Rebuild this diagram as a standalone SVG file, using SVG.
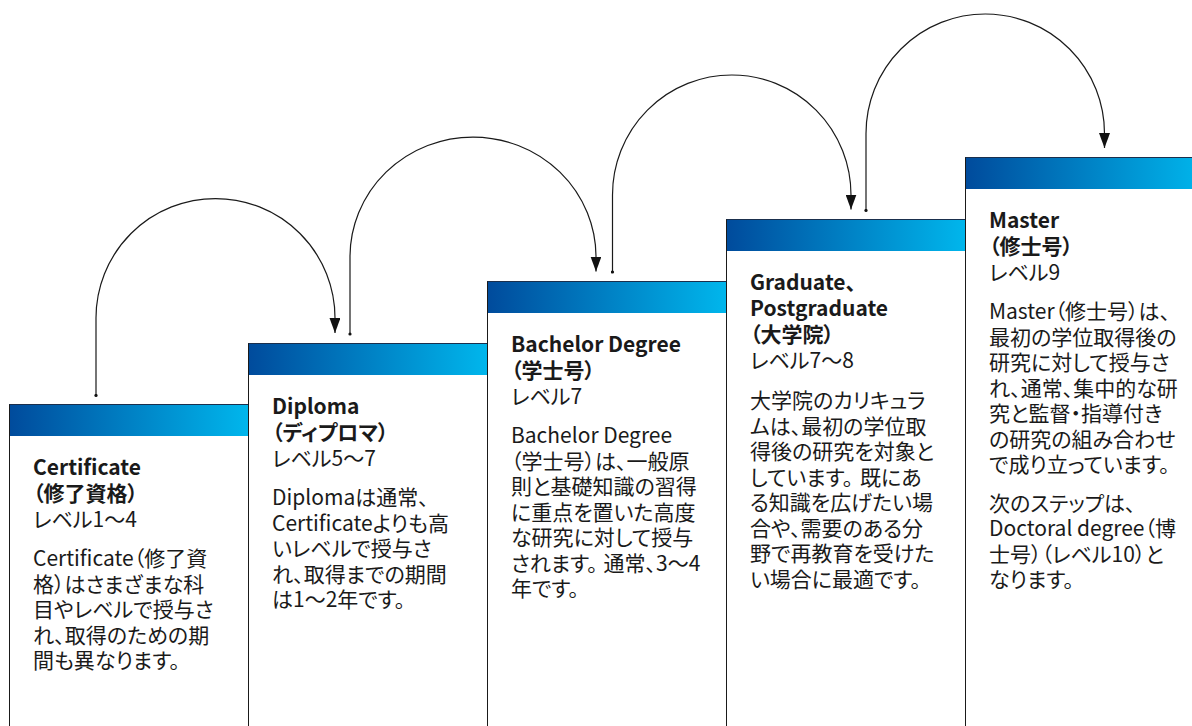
<svg xmlns="http://www.w3.org/2000/svg" width="1192" height="726" viewBox="0 0 1192 726">
<style>
.box{fill:#fff;stroke:#1a1a1a;stroke-width:1}
.hdr{fill:url(#grad)}
text{font-family:"Noto Sans CJK JP","Noto Sans",sans-serif;font-size:21px;fill:#1a1a1a;font-feature-settings:"palt" 1}
.t{font-weight:700}
.l,.b{font-weight:400}
.conn{fill:none;stroke:#1a1a1a;stroke-width:1.2;marker-start:url(#dot);marker-end:url(#arr)}
</style>
<defs>
<linearGradient id="grad" x1="0" y1="0" x2="1" y2="0">
<stop offset="0" stop-color="#004b9c"/>
<stop offset="1" stop-color="#00b6ec"/>
</linearGradient>
<marker id="arr" viewBox="0 0 15 11" refX="15" refY="5.5" markerWidth="15" markerHeight="11" markerUnits="userSpaceOnUse" orient="auto">
<path d="M0,0 L15,5.5 L0,11 Z" fill="#111"/>
</marker>
<marker id="dot" viewBox="0 0 4 4" refX="2" refY="2" markerWidth="4" markerHeight="4" markerUnits="userSpaceOnUse">
<circle cx="2" cy="2" r="1.6" fill="#111"/>
</marker>
</defs>
<rect width="1192" height="726" fill="#fff"/>

<g id="node-certificate">
<rect class="box" x="9.5" y="404.5" width="239" height="330"/>
<rect class="hdr" x="10" y="405" width="238" height="31"/>
<line x1="9.5" y1="404.5" x2="248.5" y2="404.5" stroke="#1a2f4d" stroke-width="1"/>
<text class="t"><tspan x="33" y="475">Certificate</tspan><tspan x="33" y="501">（修了資格）</tspan></text>
<text class="l"><tspan x="33" y="527">レベル1〜4</tspan></text>
<text class="b"><tspan x="33" y="566">Certificate（修了資</tspan><tspan x="33" y="591.5">格）はさまざまな科</tspan><tspan x="33" y="617">目やレベルで授与さ</tspan><tspan x="33" y="642.5">れ、取得のための期</tspan><tspan x="33" y="668">間も異なります。</tspan></text>
</g>

<g id="node-diploma">
<rect class="box" x="248.5" y="343.5" width="239" height="400"/>
<rect class="hdr" x="249" y="344" width="238" height="31"/>
<line x1="248.5" y1="343.5" x2="487.5" y2="343.5" stroke="#1a2f4d" stroke-width="1"/>
<text class="t"><tspan x="272" y="414">Diploma</tspan><tspan x="272" y="440">（ディプロマ）</tspan></text>
<text class="l"><tspan x="272" y="466">レベル5〜7</tspan></text>
<text class="b"><tspan x="272" y="505">Diplomaは通常、</tspan><tspan x="272" y="530.5">Certificateよりも高</tspan><tspan x="272" y="556">いレベルで授与さ</tspan><tspan x="272" y="581.5">れ、取得までの期間</tspan><tspan x="272" y="607">は1〜2年です。</tspan></text>
</g>

<g id="node-bachelor">
<rect class="box" x="487.5" y="281.5" width="239" height="460"/>
<rect class="hdr" x="488" y="282" width="238" height="31"/>
<line x1="487.5" y1="281.5" x2="726.5" y2="281.5" stroke="#1a2f4d" stroke-width="1"/>
<text class="t"><tspan x="511" y="352">Bachelor Degree</tspan><tspan x="511" y="378">（学士号）</tspan></text>
<text class="l"><tspan x="511" y="404">レベル7</tspan></text>
<text class="b"><tspan x="511" y="443">Bachelor Degree</tspan><tspan x="511" y="468.5">（学士号）は、一般原</tspan><tspan x="511" y="494">則と基礎知識の習得</tspan><tspan x="511" y="519.5">に重点を置いた高度</tspan><tspan x="511" y="545">な研究に対して授与</tspan><tspan x="511" y="570.5">されます。</tspan><tspan dx="6">通常、3〜4</tspan><tspan x="511" y="596">年です。</tspan></text>
</g>

<g id="node-graduate">
<rect class="box" x="726.5" y="219.5" width="239" height="520"/>
<rect class="hdr" x="727" y="220" width="238" height="31"/>
<line x1="726.5" y1="219.5" x2="965.5" y2="219.5" stroke="#1a2f4d" stroke-width="1"/>
<text class="t"><tspan x="750" y="290">Graduate、</tspan><tspan x="750" y="316">Postgraduate</tspan><tspan x="750" y="342">（大学院）</tspan></text>
<text class="l"><tspan x="750" y="368">レベル7〜8</tspan></text>
<text class="b"><tspan x="750" y="408">大学院のカリキュラ</tspan><tspan x="750" y="433.5">ムは、最初の学位取</tspan><tspan x="750" y="459">得後の研究を対象と</tspan><tspan x="750" y="484.5">しています。</tspan><tspan dx="7">既にあ</tspan><tspan x="750" y="510">る知識を広げたい場</tspan><tspan x="750" y="535.5">合や、需要のある分</tspan><tspan x="750" y="561">野で再教育を受けた</tspan><tspan x="750" y="586.5">い場合に最適です。</tspan></text>
</g>

<g id="node-master">
<rect class="box" x="965.5" y="157.5" width="239" height="580"/>
<rect class="hdr" x="966" y="158" width="238" height="31"/>
<line x1="965.5" y1="157.5" x2="1204.5" y2="157.5" stroke="#1a2f4d" stroke-width="1"/>
<text class="t"><tspan x="989" y="228">Master</tspan><tspan x="989" y="254">（修士号）</tspan></text>
<text class="l"><tspan x="989" y="280">レベル9</tspan></text>
<text class="b"><tspan x="989" y="319">Master（修士号）は、</tspan><tspan x="989" y="344.5">最初の学位取得後の</tspan><tspan x="989" y="370">研究に対して授与さ</tspan><tspan x="989" y="395.5">れ、通常、集中的な研</tspan><tspan x="989" y="421">究と監督・指導付き</tspan><tspan x="989" y="446.5">の研究の組み合わせ</tspan><tspan x="989" y="472">で成り立っています。</tspan><tspan x="989" y="510.5">次のステップは、</tspan><tspan x="989" y="536">Doctoral degree（博</tspan><tspan x="989" y="561.5">士号）（レベル10）と</tspan><tspan x="989" y="587">なります。</tspan></text>
</g>

<g id="connectors">
<path class="conn" d="M96,395.5 V318 A119.5,119.5 0 0 1 335,318 V333"/>
<path class="conn" d="M350,334 V257 A123,120 0 0 1 596,257 V271.5"/>
<path class="conn" d="M612.5,272 V195 A119.25,120 0 0 1 851,195 V209.5"/>
<path class="conn" d="M866,210.5 V133.5 A119.25,119.5 0 0 1 1104.5,133.5 V148"/>
</g>
</svg>
